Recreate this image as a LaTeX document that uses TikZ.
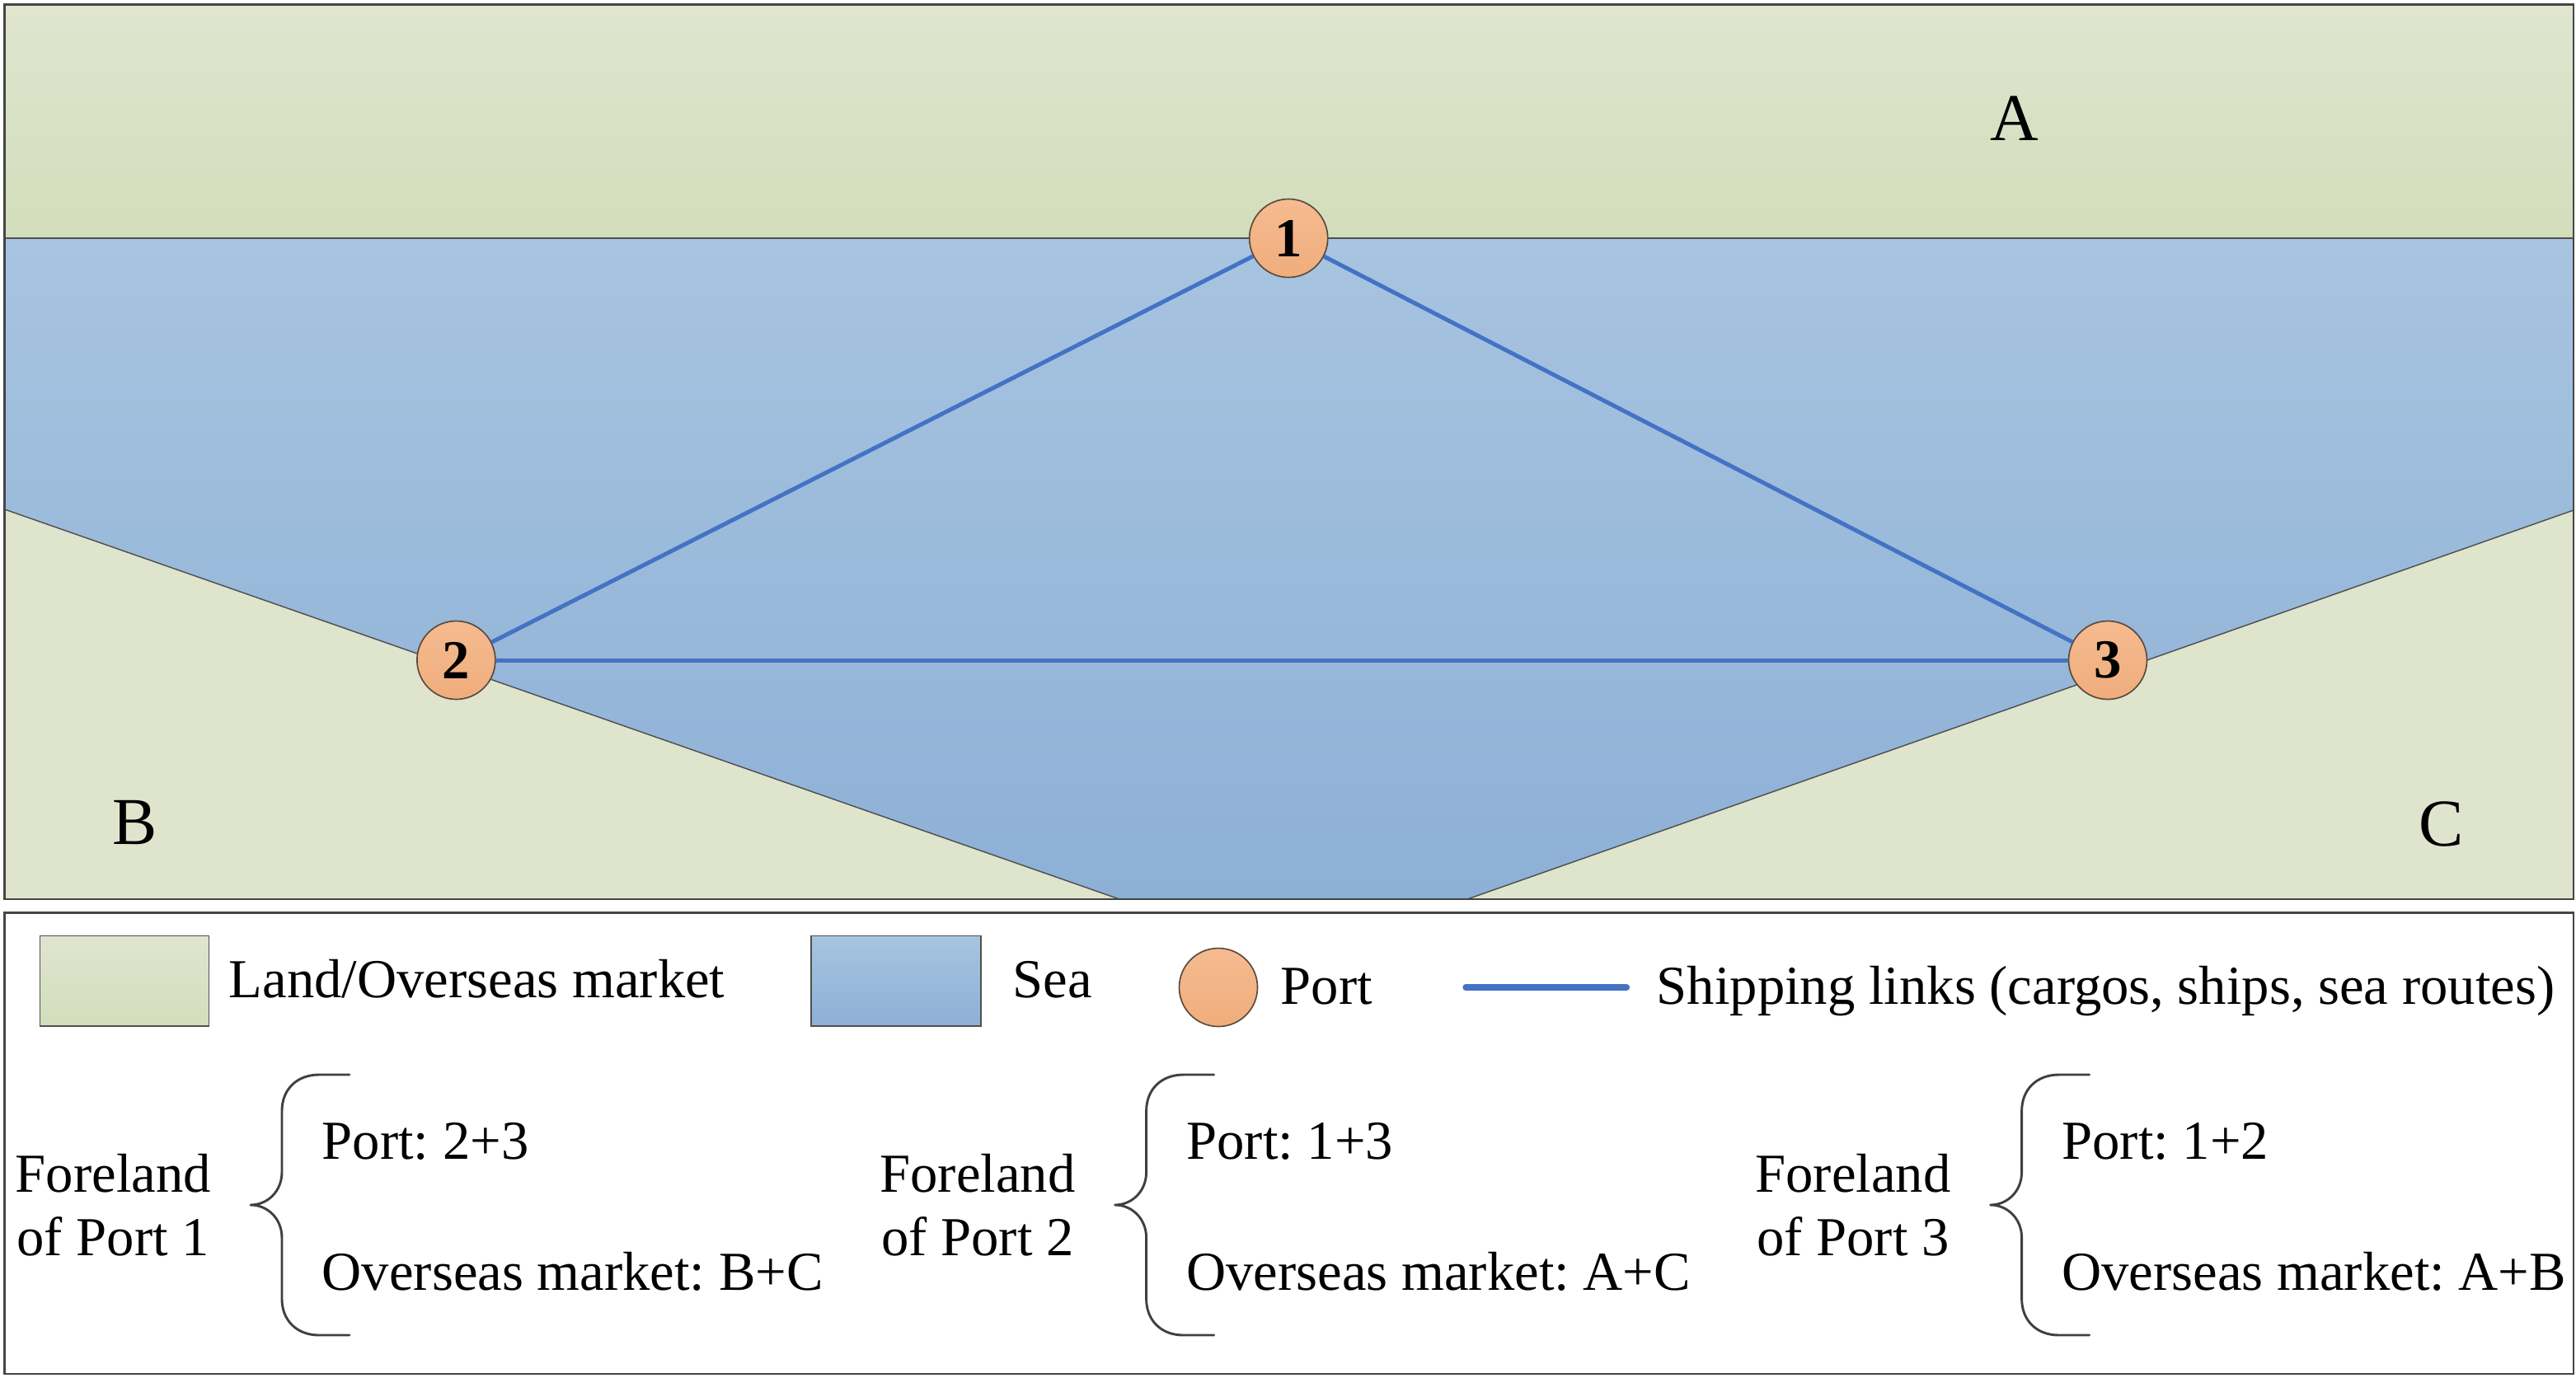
\documentclass[tikz,border=0pt]{standalone}
\usepackage{fontspec}
\setmainfont{Liberation Serif}
\frenchspacing
\definecolor{seatop}{HTML}{A7C4E0}
\definecolor{seabot}{HTML}{8DB0D6}
\definecolor{landtop}{HTML}{DFE5CF}
\definecolor{landbot}{HTML}{D3DDBB}
\definecolor{landlow}{HTML}{DFE4CD}
\definecolor{porttop}{HTML}{F5BB90}
\definecolor{portbot}{HTML}{F0AD7C}
\definecolor{portedge}{HTML}{5A4A3E}
\definecolor{linkblue}{HTML}{4472C4}
\definecolor{framegray}{HTML}{454545}
\definecolor{coastgray}{HTML}{505050}
\definecolor{bracegray}{HTML}{404040}
\begin{document}
\begin{tikzpicture}[x=0.48pt,y=-0.48pt,
  txt/.style={font=\fontsize{16}{18.4}\selectfont, inner sep=0pt, text=black},
  bigtxt/.style={font=\fontsize{19.5}{22}\selectfont, inner sep=0pt, text=black},
  port/.style={circle, minimum size=22.8pt, inner sep=0pt, draw=portedge, line width=0.4pt,
    top color=porttop, bottom color=portbot, font=\bfseries\fontsize{16}{18}\selectfont},
  link/.style={draw=linkblue, line width=1.2pt},
  framebox/.style={draw=framegray, line width=0.6pt},
  coast/.style={draw=coastgray, line width=0.35pt},
  bracepath/.style={draw=bracegray, line width=0.7pt, line cap=round, line join=round},
  swatch/.style={draw=coastgray, line width=0.4pt}]

\useasboundingbox (0,0) rectangle (1562.5,835.5);

% ---------------- map ----------------
\path[top color=seatop, bottom color=seabot]
  (2.8,144.5) -- (1561,144.5) -- (1561,309.5) -- (890,545.5) -- (679,545.5) -- (2.8,309) -- cycle;
\path[top color=landtop, bottom color=landbot] (2.8,2.7) rectangle (1561,144.5);
\fill[landlow] (2.8,309) -- (679,545.5) -- (2.8,545.5) -- cycle;
\fill[landlow] (1561,309.5) -- (890,545.5) -- (1561,545.5) -- cycle;
\draw[coast] (2.8,144.5) -- (1561,144.5);
\draw[coast] (2.8,309) -- (679,545.5);
\draw[coast] (1561,309.5) -- (890,545.5);
\draw[framebox] (2.8,2.7) rectangle (1561,545.5);

\node[bigtxt, anchor=base] (lA) at (1221.7,85) {A};
\node[bigtxt, anchor=base] (lB) at (82,512) {B};
\node[bigtxt, anchor=base] (lC) at (1480.6,513) {C};

\node[port] (p1) at (781.6,144.5) {1};
\node[port] (p2) at (276.7,400.5) {2};
\node[port] (p3) at (1278.5,400.5) {3};

\draw[link] (p1) -- (p2);
\draw[link] (p1) -- (p3);
\draw[link] (p2) -- (p3);

% ---------------- legend ----------------
\draw[framebox] (2.8,553.8) rectangle (1561,833.5);

\path[swatch, top color=landtop, bottom color=landbot] (24.2,567.8) rectangle (126.7,622.5);
\node[txt, anchor=base west] (tland) at (138.5,605) {Land/Overseas market};
\path[swatch, top color=seatop, bottom color=seabot] (492,567.8) rectangle (595,622.5);
\node[txt, anchor=base west] (tsea) at (614,605) {Sea};
\node[port] (lp) at (739,599) {};
\node[txt, anchor=base west] (tport) at (776.5,609) {Port};
\coordinate (ls) at (889,599);
\coordinate (le) at (986.7,599);
\draw[draw=linkblue, line width=1.75pt, line cap=round] (ls) -- (le);
\node[txt, anchor=base west] (tship) at (1004.5,609) {Shipping links (cargos, ships, sea routes)};

% ---------------- forelands ----------------
\foreach \dx/\n/\pa/\om in {0/1/2+3/B+C, 524.3/2/1+3/A+C, 1055.3/3/1+2/A+B}{
  \begin{scope}[shift={(\dx,0)}]
    \node[txt, align=center, anchor=west] (fl\n) at (9,731) {Foreland\\of Port \n};
    \draw[bracepath] (212,652) -- (193.5,652) .. controls (180,652) and (171,661) .. (171,674)
      -- (171,711) .. controls (171,723) and (162,731) .. (152,731)
      .. controls (162,731) and (171,739) .. (171,751)
      -- (171,788) .. controls (171,801) and (180,810) .. (193.5,810) -- (212,810);
    \node[txt, anchor=base west] (pp\n) at (195,703) {Port: \pa};
    \node[txt, anchor=base west] (om\n) at (195,782.5) {Overseas market: \om};
  \end{scope}
}
\end{tikzpicture}
\end{document}
